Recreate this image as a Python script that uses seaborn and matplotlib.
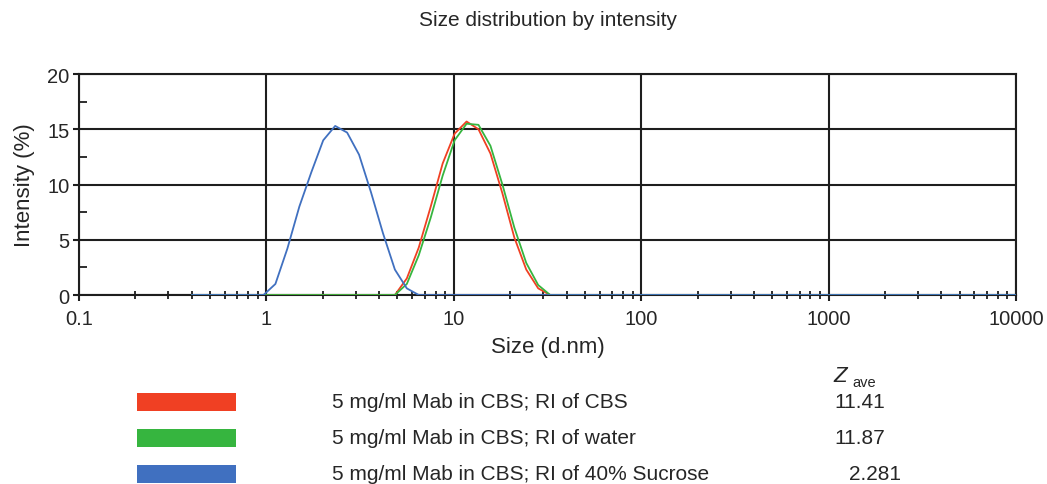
import matplotlib
matplotlib.use("Agg")
import numpy as np
import pandas as pd
import matplotlib.pyplot as plt
import seaborn as sns
from matplotlib.patches import Rectangle
from matplotlib.ticker import FixedLocator, LogLocator, NullFormatter, FixedFormatter

# ---------------- data ----------------
size_nm = [0.4, 0.4632, 0.5365, 0.6213, 0.7195, 0.8332, 0.9649, 1.117, 1.294, 1.499,
           1.736, 2.01, 2.328, 2.696, 3.122, 3.615, 4.187, 4.849, 5.615, 6.503,
           7.531, 8.721, 10.1, 11.7, 13.54, 15.69, 18.17, 21.04, 24.36, 28.21,
           32.67, 37.84, 43.82, 50.75, 58.77, 68.06, 78.82, 91.28, 105.7, 122.4,
           141.8, 164.2, 190.1, 220.2, 255.0, 295.3, 342.0, 396.1, 458.7, 531.2,
           615.1, 712.4, 825.0, 955.4, 1106, 1281, 1484, 1718, 1990, 2305,
           2669, 3091, 3580, 4145, 4801, 5560, 6439, 7456, 8635, 10000]

intensity_cbs = [0, 0, 0, 0, 0, 0, 0, 0, 0, 0,
                 0, 0, 0, 0, 0, 0, 0, 0, 1.5, 4.3,
                 8.0, 11.9, 14.6, 15.7, 15.0, 12.8, 9.2, 5.2, 2.3, 0.6,
                 0, 0, 0, 0, 0, 0, 0, 0, 0, 0,
                 0, 0, 0, 0, 0, 0, 0, 0, 0, 0,
                 0, 0, 0, 0, 0, 0, 0, 0, 0, 0,
                 0, 0, 0, 0, 0, 0, 0, 0, 0, 0]

intensity_water = [0, 0, 0, 0, 0, 0, 0, 0, 0, 0,
                   0, 0, 0, 0, 0, 0, 0, 0, 1.0, 3.6,
                   7.0, 10.8, 14.0, 15.5, 15.4, 13.5, 10.0, 6.1, 2.9, 0.9,
                   0, 0, 0, 0, 0, 0, 0, 0, 0, 0,
                   0, 0, 0, 0, 0, 0, 0, 0, 0, 0,
                   0, 0, 0, 0, 0, 0, 0, 0, 0, 0,
                   0, 0, 0, 0, 0, 0, 0, 0, 0, 0]

intensity_sucrose = [0, 0, 0, 0, 0, 0, 0, 1.0, 4.2, 8.0,
                     11.1, 14.0, 15.3, 14.7, 12.7, 9.3, 5.6, 2.3, 0.6, 0,
                     0, 0, 0, 0, 0, 0, 0, 0, 0, 0,
                     0, 0, 0, 0, 0, 0, 0, 0, 0, 0,
                     0, 0, 0, 0, 0, 0, 0, 0, 0, 0,
                     0, 0, 0, 0, 0, 0, 0, 0, 0, 0,
                     0, 0, 0, 0, 0, 0, 0, 0, 0, 0]

series_labels = ["5 mg/ml Mab in CBS; RI of CBS",
                 "5 mg/ml Mab in CBS; RI of water",
                 "5 mg/ml Mab in CBS; RI of 40% Sucrose"]
z_ave = ["11.41", "11.87", "2.281"]
series_colors = ["#F04023", "#36B53F", "#4070C0"]

x_tick_values = [0.1, 1, 10, 100, 1000, 10000]
x_tick_labels = ["0.1", "1", "10", "100", "1000", "10000"]
y_tick_values = [0, 5, 10, 15, 20]

# ---------------- long-form table ----------------
frames = []
for lab, vals in zip(series_labels, [intensity_cbs, intensity_water, intensity_sucrose]):
    frames.append(pd.DataFrame({"size": size_nm, "intensity": vals, "sample": lab}))
df = pd.concat(frames, ignore_index=True)

# ---------------- styling ----------------
sns.set_style("white")
plt.rcParams["font.family"] = ["Liberation Sans", "DejaVu Sans"]

W, H = 1047, 485
fig = plt.figure(figsize=(W / 100, H / 100), dpi=100)
ax = fig.add_axes([79 / W, 1 - 296 / H, (1016 - 79) / W, (296 - 75) / H])

sns.lineplot(data=df, x="size", y="intensity", hue="sample", hue_order=series_labels,
             palette=series_colors, sort=False, estimator=None, linewidth=1.3,
             legend=False, ax=ax, zorder=3)

ax.set_xscale("log")
ax.set_xlim(0.1, 10000)
ax.set_ylim(0, 20)

ax.xaxis.set_major_locator(FixedLocator(x_tick_values))
ax.xaxis.set_major_formatter(FixedFormatter(x_tick_labels))
ax.xaxis.set_minor_locator(LogLocator(base=10, subs=np.arange(2, 10)))
ax.xaxis.set_minor_formatter(NullFormatter())
ax.yaxis.set_major_locator(FixedLocator(y_tick_values))
ax.yaxis.set_minor_locator(FixedLocator([2.5, 7.5, 12.5, 17.5]))

ax.grid(True, which="major", color="#1e1e1e", linewidth=1.5, zorder=1)
ax.set_axisbelow(True)
for sp in ax.spines.values():
    sp.set_color("#1e1e1e")
    sp.set_linewidth(1.5)

ax.tick_params(axis="x", which="major", direction="out", length=4, width=1.5,
               color="#1e1e1e", labelsize=14.5, pad=6, bottom=True)
ax.tick_params(axis="x", which="minor", direction="inout", length=6, width=1.3,
               color="#1e1e1e", bottom=True)
ax.tick_params(axis="y", which="major", direction="out", length=4, width=1.5,
               color="#1e1e1e", labelsize=14.5, pad=3, left=True)
ax.tick_params(axis="y", which="minor", direction="in", length=6, width=1.3,
               color="#1e1e1e", left=True)

ax.set_xlabel("Size (d.nm)", fontsize=16, labelpad=6)
ax.set_ylabel("Intensity (%)", fontsize=16, labelpad=9)

fig.text(548 / W, 1 - 20 / H, "Size distribution by intensity", ha="center",
         va="center", fontsize=15)

# ---------------- legend block ----------------
row_centers = [403, 439, 475]
z_left = [834, 834, 849]
for yc, lab, col, z, zl in zip(row_centers, series_labels, series_colors, z_ave, z_left):
    fig.patches.append(Rectangle((137 / W, 1 - (yc + 9) / H), 99 / W, 18 / H,
                                 transform=fig.transFigure, facecolor=col,
                                 edgecolor="none"))
    fig.text(332 / W, 1 - yc / H, lab, ha="left", va="center", fontsize=15)
    fig.text(zl / W, 1 - yc / H, z, ha="left", va="center", fontsize=15)

fig.text(833 / W, 1 - 376 / H, "Z", ha="left", va="center", fontsize=16,
         style="italic")
fig.text(852 / W, 1 - 383 / H, "ave", ha="left", va="center", fontsize=10.5)

fig.savefig("out.png", dpi=100, facecolor="white")
